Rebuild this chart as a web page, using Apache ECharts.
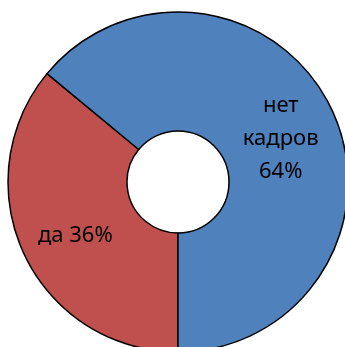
<!DOCTYPE html>
<html>
<head>
<meta charset="utf-8">
<script src="https://cdn.jsdelivr.net/npm/echarts@6/dist/echarts.min.js"></script>
<style>
  html, body { margin: 0; padding: 0; background: #fff; }
  #chart { width: 345px; height: 347px; }
</style>
</head>
<body>
<div id="chart"></div>
<script>
// Answer categories and their shares (percent)
const categories = ['да', 'нет кадров'];
const values = [36, 64];
const colors = ['#C0504D', '#4F81BD'];

const chart = echarts.init(document.getElementById('chart'), null, { renderer: 'canvas' });

const data = categories.map((name, i) => ({
  name: name,
  value: values[i],
  itemStyle: { color: colors[i] }
}));

chart.setOption({
  animation: false,
  series: [{
    type: 'pie',
    center: [178, 182],
    radius: [51, 170],
    startAngle: 270,
    clockwise: true,
    avoidLabelOverlap: false,
    data: data,
    itemStyle: {
      borderColor: '#000',
      borderWidth: 1.5
    },
    label: {
      show: true,
      position: 'inside',
      color: '#000',
      fontFamily: 'Noto Sans',
      fontSize: 22,
      lineHeight: 33,
      // a thin blank first line nudges the block slightly downward
      formatter: p => {
        const pct = p.percent.toFixed(0) + '%';
        const text = p.name.split(' ').length > 1
          ? p.name.split(' ').join('\n') + '\n' + pct
          : p.name + ' ' + pct;
        return '{s|}\n' + text;
      },
      rich: {
        s: { lineHeight: 10, fontSize: 1 }
      }
    },
    labelLine: { show: false },
    emphasis: { disabled: true }
  }]
});
</script>
</body>
</html>
